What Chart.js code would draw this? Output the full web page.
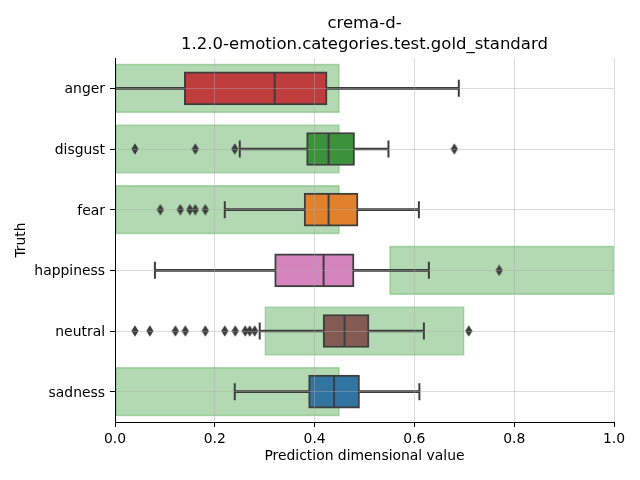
<!DOCTYPE html>
<html>
<head>
<meta charset="utf-8">
<script src="https://cdn.jsdelivr.net/npm/chart.js@4/dist/chart.umd.min.js"></script>
<style>
  html, body { margin: 0; padding: 0; background: #ffffff; }
  #wrap { width: 640px; height: 480px; }
</style>
</head>
<body>
<div id="wrap"><canvas id="c" width="640" height="480"></canvas></div>
<script>
// ---- data ----
const categories  = ['anger', 'disgust', 'fear', 'happiness', 'neutral', 'sadness'];
const whiskerLow  = [0.000, 0.250, 0.220, 0.080, 0.290, 0.240];
const q1          = [0.139, 0.384, 0.379, 0.320, 0.417, 0.388];
const median      = [0.320, 0.428, 0.428, 0.418, 0.460, 0.439];
const q3          = [0.425, 0.480, 0.487, 0.479, 0.509, 0.490];
const whiskerHigh = [0.689, 0.548, 0.609, 0.629, 0.619, 0.610];
const outliers = [
  [],
  [0.04, 0.161, 0.24, 0.68],
  [0.091, 0.131, 0.150, 0.161, 0.181],
  [0.77],
  [0.04, 0.07, 0.121, 0.141, 0.181, 0.22, 0.241, 0.261, 0.27, 0.28, 0.709],
  []
];
const goldLow  = [0.00, 0.00, 0.00, 0.55, 0.30, 0.00];
const goldHigh = [0.45, 0.45, 0.45, 1.00, 0.70, 0.45];
const xTicks = [0.0, 0.2, 0.4, 0.6, 0.8, 1.0];
const titleLines = ['crema-d-', '1.2.0-emotion.categories.test.gold_standard'];
const xLabel = 'Prediction dimensional value';
const yLabel = 'Truth';

// ---- styles ----
const boxColors = ['#c03d3e', '#3a923a', '#e1812c', '#d684bd', '#845b53', '#3274a1'];
const edge = '#3d3d3d';
const gridColor = 'rgba(170,170,170,0.42)';

// thin diamond marker (seaborn 'd')
const diamond = document.createElement('canvas');
diamond.width = 8; diamond.height = 12;
(function () {
  const g = diamond.getContext('2d');
  g.fillStyle = edge;
  g.beginPath();
  g.moveTo(4, 0.3); g.lineTo(7.6, 6); g.lineTo(4, 11.7); g.lineTo(0.4, 6);
  g.closePath(); g.fill();
})();

Chart.defaults.font.family = "'DejaVu Sans', sans-serif";
Chart.defaults.font.size = 13.9;
Chart.defaults.color = '#000000';

const goldData    = categories.map((c, i) => [goldLow[i], goldHigh[i]]);
const whiskerData = categories.map((c, i) => [whiskerLow[i], whiskerHigh[i]]);
const boxData     = categories.map((c, i) => [q1[i], q3[i]]);
const medianData  = categories.map((c, i) => ({ x: median[i], y: c }));
const capData     = categories.flatMap((c, i) => [{ x: whiskerLow[i], y: c }, { x: whiskerHigh[i], y: c }]);
const outlierData = categories.flatMap((c, i) => outliers[i].map(v => ({ x: v, y: c })));

new Chart(document.getElementById('c'), {
  type: 'bar',
  data: {
    labels: categories,
    datasets: [
      { label: 'gold', data: goldData, xAxisID: 'x', yAxisID: 'y', grouped: false, order: 6,
        backgroundColor: 'rgba(0,128,0,0.30)', borderColor: 'rgba(60,160,60,0.35)', borderWidth: 1,
        borderSkipped: false, barThickness: 49 },
      { label: 'whisker', data: whiskerData, xAxisID: 'x', yAxisID: 'y', grouped: false, order: 5,
        backgroundColor: edge, borderWidth: 0, barThickness: 2 },
      { label: 'box', data: boxData, xAxisID: 'x', yAxisID: 'y', grouped: false, order: 4,
        backgroundColor: boxColors, borderColor: edge, borderWidth: 2, borderSkipped: false, barThickness: 33 },
      { type: 'scatter', label: 'median', data: medianData, xAxisID: 'x', yAxisID: 'y', order: 3,
        pointStyle: 'line', rotation: 90, pointRadius: 16, pointHoverRadius: 16,
        pointBorderColor: edge, pointBorderWidth: 2 },
      { type: 'scatter', label: 'caps', data: capData, xAxisID: 'x', yAxisID: 'y', order: 2,
        pointStyle: 'line', rotation: 90, pointRadius: 8.5, pointHoverRadius: 8.5,
        pointBorderColor: edge, pointBorderWidth: 2 },
      { type: 'scatter', label: 'outliers', data: outlierData, xAxisID: 'x', yAxisID: 'y', order: 1,
        pointStyle: diamond, pointRadius: 6, pointHoverRadius: 6 }
    ]
  },
  options: {
    indexAxis: 'y',
    responsive: false,
    animation: false,
    events: [],
    layout: { padding: { left: 0, right: 26, top: 0, bottom: 0 } },
    plugins: { legend: { display: false }, tooltip: { enabled: false }, title: { display: false } },
    scales: {
      x: {
        type: 'linear', position: 'bottom', axis: 'x', min: 0, max: 1,
        afterBuildTicks: (s) => { s.ticks = xTicks.map(v => ({ value: v })); },
        afterFit: (s) => { s.height = 58; },
        ticks: { padding: 4, callback: (v) => Number(v).toFixed(1), font: { size: 13.9 } },
        grid: { color: gridColor, tickColor: '#000', tickLength: 5, z: 1 },
        border: { color: '#000', width: 1, z: 2 },
        title: { display: true, text: xLabel, font: { size: 13.9 }, padding: { top: 0, bottom: 15 } }
      },
      xTop: {
        type: 'linear', position: 'top', axis: 'x', min: 0, max: 1,
        afterFit: (s) => { s.height = 58; },
        ticks: { display: false },
        grid: { display: false, drawTicks: false },
        border: { display: false },
        title: { display: true, text: titleLines, font: { size: 16.5, lineHeight: '21.5px' },
                 padding: { top: 12.5, bottom: 0 } }
      },
      y: {
        type: 'category', position: 'left', offset: true,
        afterFit: (s) => { s.width = 115; },
        ticks: { padding: 5, labelOffset: 1.5, font: { size: 13.9 } },
        grid: { offset: false, color: gridColor, tickColor: '#000', tickLength: 5, z: 1 },
        border: { color: '#000', width: 1, z: 2 },
        title: { display: true, text: yLabel, font: { size: 13.9 }, padding: { top: 13, bottom: 0 } }
      }
    }
  }
});
</script>
</body>
</html>
